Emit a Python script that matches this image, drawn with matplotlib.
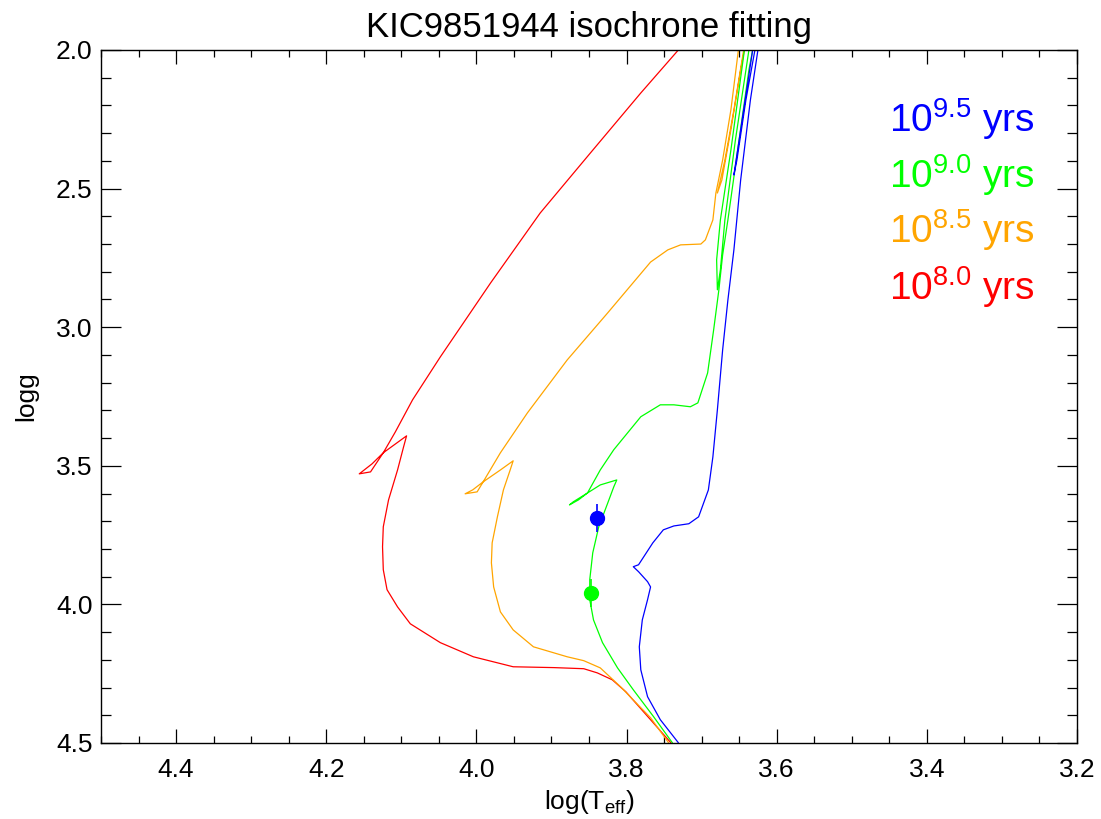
import numpy as np
import matplotlib
matplotlib.use("Agg")
import matplotlib.pyplot as plt
from matplotlib.ticker import MultipleLocator, FormatStrFormatter

plt.rcParams['font.family'] = ['Liberation Sans', 'DejaVu Sans']
plt.rcParams['mathtext.fontset'] = 'custom'
plt.rcParams['mathtext.rm'] = 'Liberation Sans'
plt.rcParams['mathtext.it'] = 'Liberation Sans:italic'

# ---- data (log Teff, log g) ----
red_teff = [3.739, 3.741, 3.768, 3.801, 3.819, 3.839, 3.857, 3.897, 3.951, 4.004, 4.048, 4.088,
            4.105, 4.119, 4.124, 4.125, 4.124, 4.117, 4.105, 4.097, 4.093, 4.124, 4.141, 4.156,
            4.139, 4.124, 4.108, 4.085, 4.048, 3.981, 3.915, 3.848, 3.781, 3.731, 3.715]
red_logg = [4.524, 4.499, 4.416, 4.315, 4.272, 4.247, 4.232, 4.228, 4.225, 4.189, 4.138, 4.070,
            4.009, 3.947, 3.875, 3.792, 3.720, 3.623, 3.515, 3.432, 3.392, 3.453, 3.522, 3.529,
            3.493, 3.453, 3.378, 3.262, 3.107, 2.840, 2.588, 2.371, 2.155, 2.000, 1.950]

orange_teff = [3.743, 3.744, 3.768, 3.808, 3.835, 3.857, 3.879, 3.924, 3.951, 3.968, 3.977, 3.980,
               3.979, 3.972, 3.964, 3.955, 3.951, 3.968, 3.991, 3.999, 4.015, 4.005, 3.991, 3.968,
               3.932, 3.879, 3.825, 3.768, 3.745, 3.728, 3.701, 3.695, 3.685, 3.681, 3.672, 3.661,
               3.651, 3.648,
               3.641, 3.644, 3.657, 3.669, 3.679, 3.673, 3.661, 3.648, 3.643, 3.640]
orange_logg = [4.524, 4.499, 4.409, 4.297, 4.229, 4.203, 4.189, 4.153, 4.092, 4.027, 3.937, 3.850,
               3.778, 3.684, 3.587, 3.515, 3.482, 3.515, 3.558, 3.594, 3.601, 3.587, 3.558, 3.453,
               3.309, 3.118, 2.948, 2.765, 2.721, 2.703, 2.700, 2.685, 2.613, 2.516, 2.397, 2.216,
               2.000, 1.957,
               1.957, 2.000, 2.216, 2.397, 2.516, 2.469, 2.288, 2.072, 2.000, 1.957]

green_teff = [3.737, 3.739, 3.764, 3.791, 3.812, 3.832, 3.844, 3.849, 3.849, 3.845, 3.837, 3.825,
              3.817, 3.813, 3.835, 3.852, 3.871, 3.876, 3.864, 3.852, 3.835, 3.817, 3.781, 3.755,
              3.737, 3.715, 3.705, 3.692, 3.684, 3.677, 3.672, 3.665, 3.652, 3.637, 3.632, 3.629,
              3.640, 3.643, 3.661, 3.675, 3.680, 3.679, 3.675, 3.669, 3.655, 3.637, 3.635]
green_logg = [4.524, 4.499, 4.405, 4.308, 4.229, 4.138, 4.056, 3.983, 3.911, 3.814, 3.720, 3.634,
              3.576, 3.551, 3.569, 3.598, 3.630, 3.641, 3.623, 3.598, 3.515, 3.442, 3.323, 3.280,
              3.280, 3.287, 3.273, 3.165, 3.010, 2.865, 2.739, 2.613, 2.361, 2.072, 2.000, 1.957,
              1.957, 2.000, 2.361, 2.613, 2.757, 2.865, 2.793, 2.613, 2.325, 2.000, 1.957]

blue_teff = [3.729, 3.731, 3.755, 3.772, 3.781, 3.783, 3.779, 3.772, 3.768, 3.772, 3.784, 3.791,
             3.784, 3.765, 3.751, 3.737, 3.717, 3.704, 3.691, 3.685, 3.679, 3.672, 3.665, 3.657,
             3.648, 3.635, 3.625, 3.621,
             3.628, 3.632, 3.645, 3.657, 3.653, 3.641, 3.629, 3.627]
blue_logg = [4.524, 4.499, 4.416, 4.333, 4.236, 4.153, 4.056, 3.983, 3.937, 3.918, 3.882, 3.864,
             3.857, 3.778, 3.731, 3.717, 3.709, 3.684, 3.587, 3.468, 3.298, 3.082, 2.902, 2.721,
             2.469, 2.180, 2.000, 1.946,
             1.957, 2.000, 2.234, 2.451, 2.397, 2.180, 2.000, 1.957]

star_teff = [3.839, 3.847]
star_logg = [3.688, 3.958]
star_err = [0.05, 0.05]
star_colors = ['#0000ff', '#00ff00']

ages = ['9.5', '9.0', '8.5', '8.0']
age_colors = ['#0000ff', '#00ff00', '#ffa500', '#ff0000']

fig = plt.figure(figsize=(11.01, 8.19), dpi=100)
ax = fig.add_axes([101/1101, 1-743/819, 976/1101, 693/819])

ax.plot(red_teff, red_logg, color='#ff0000', lw=0.9)
ax.plot(orange_teff, orange_logg, color='#ffa500', lw=0.9)
ax.plot(green_teff, green_logg, color='#00ff00', lw=0.9)
ax.plot(blue_teff, blue_logg, color='#0000ff', lw=0.9)

for t, g, e, c in zip(star_teff, star_logg, star_err, star_colors):
    ax.errorbar([t], [g], yerr=[e], fmt='o', color=c, ms=10, elinewidth=1.2, capsize=0)

ax.set_xlim(4.5, 3.2)
ax.set_ylim(4.5, 2.0)
ax.xaxis.set_major_locator(MultipleLocator(0.2))
ax.xaxis.set_minor_locator(MultipleLocator(0.05))
ax.yaxis.set_major_locator(MultipleLocator(0.5))
ax.yaxis.set_minor_locator(MultipleLocator(0.1))
ax.tick_params(axis='both', which='both', direction='in', top=True, right=True,
               labelsize=19, width=0.9, color='black')
ax.tick_params(axis='x', which='major', length=10, pad=11)
ax.tick_params(axis='x', which='minor', length=5)
ax.tick_params(axis='y', which='major', length=14.5, pad=6)
ax.tick_params(axis='y', which='minor', length=7.2)
ax.xaxis.set_major_formatter(FormatStrFormatter('%.1f'))
ax.yaxis.set_major_formatter(FormatStrFormatter('%.1f'))
for s in ax.spines.values():
    s.set_linewidth(1.0)

ax.set_title('KIC9851944 isochrone fitting', fontsize=25, pad=9)
ax.set_xlabel(r'log(T$_{\mathregular{eff}}$)', fontsize=19, labelpad=4)
ax.set_ylabel('logg', fontsize=19, labelpad=13)

baselines = [132, 188, 243, 300]
for a, c, b in zip(ages, age_colors, baselines):
    fig.text(1035/1101, 1 - b/819, r'$\mathregular{10^{%s}}$ yrs' % a, color=c,
             fontsize=28, ha='right', va='baseline')

fig.savefig('out.png', dpi=100)
